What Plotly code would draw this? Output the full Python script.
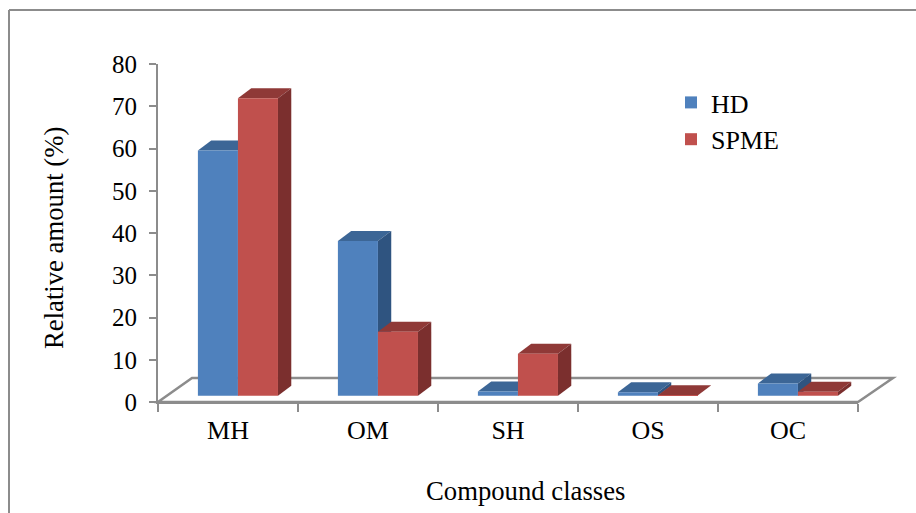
import plotly.graph_objects as go

categories = ["MH", "OM", "SH", "OS", "OC"]
hd_values = [58.0, 36.6, 1.0, 0.8, 2.9]
spme_values = [70.4, 15.1, 9.9, 0.1, 0.9]

FONT = "Liberation Serif"
FS = 26
TITLE_FS = 26.7
BASE = 1.5       # bars stand on the 3-D floor, above the axis line
DX = 0.095       # depth of a bar, in category units
DY = 2.37        # depth of a bar, in value units
WIDTH = 0.286
HD_OFFSET = -0.215
SPME_OFFSET = HD_OFFSET + WIDTH

fig = go.Figure()


def faces(values, offset, top_color, side_color):
    for i, v in enumerate(values):
        x0, x1 = i + offset, i + offset + WIDTH
        y0, y1 = BASE, BASE + v
        fig.add_trace(go.Scatter(
            x=[x0, x1, x1 + DX, x0 + DX, x0], y=[y1, y1, y1 + DY, y1 + DY, y1],
            mode="lines", fill="toself", fillcolor=top_color, line=dict(width=0),
            showlegend=False, hoverinfo="skip", cliponaxis=False,
        ))
        fig.add_trace(go.Scatter(
            x=[x1, x1 + DX, x1 + DX, x1, x1], y=[y0, y0 + DY, y1 + DY, y1, y0],
            mode="lines", fill="toself", fillcolor=side_color, line=dict(width=0),
            showlegend=False, hoverinfo="skip", cliponaxis=False,
        ))


faces(hd_values, HD_OFFSET, "#3c6696", "#2f5480")
faces(spme_values, SPME_OFFSET, "#8f3937", "#7b2f2e")

fig.add_trace(go.Bar(
    x=categories, y=hd_values, base=BASE, name="HD", xaxis="x2", yaxis="y",
    width=WIDTH, offset=HD_OFFSET, marker=dict(color="#4f81bd", line=dict(width=0)),
    legendgroup="hd",
))
fig.add_trace(go.Bar(
    x=categories, y=spme_values, base=BASE, name="SPME", xaxis="x2", yaxis="y",
    width=WIDTH, offset=SPME_OFFSET, marker=dict(color="#c0504d", line=dict(width=0)),
    legendgroup="spme",
))

axis_color = "#8c8c8c"
px_x = lambda p: (p - 158) / 700
px_y = lambda p: (402 - p) / 338
floor_path = (
    f"M {px_x(158)} {px_y(402)} L {px_x(858)} {px_y(402)} "
    f"L {px_x(893)} {px_y(378)} L {px_x(192)} {px_y(378)} Z"
)

fig.update_layout(
    width=916, height=513, autosize=False,
    margin=dict(l=158, r=58, t=64, b=111),
    paper_bgcolor="white", plot_bgcolor="rgba(0,0,0,0)",
    font=dict(family=FONT, size=FS, color="black"),
    barmode="overlay",
    xaxis=dict(type="linear", range=[-0.5, 4.5], visible=False),
    xaxis2=dict(
        type="category", categoryorder="array", categoryarray=categories,
        range=[-0.5, 4.5], overlaying="x", anchor="y", side="bottom",
        tickson="boundaries", ticks="outside", ticklen=8, tickwidth=2,
        tickcolor=axis_color, showline=True, linecolor=axis_color, linewidth=2,
        showgrid=False, zeroline=False, ticklabelstandoff=4,
        tickfont=dict(family=FONT, size=FS),
    ),
    yaxis=dict(
        range=[0, 80], tickvals=list(range(0, 90, 10)), ticks="outside",
        ticklen=7, tickwidth=2, tickcolor=axis_color, showline=True,
        linecolor=axis_color, linewidth=2, showgrid=False, zeroline=False,
        ticklabelstandoff=7, tickfont=dict(family=FONT, size=25),
    ),
    legend=dict(
        x=px_x(671), y=px_y(79), xanchor="left", yanchor="top",
        bgcolor="rgba(0,0,0,0)", tracegroupgap=0, font=dict(family=FONT, size=FS),
    ),
    annotations=[
        dict(text="Compound classes", xref="paper", yref="paper", x=px_x(525), y=px_y(491),
             showarrow=False, xanchor="center", yanchor="middle", font=dict(family=FONT, size=TITLE_FS)),
        dict(text="Relative amount (%)", xref="paper", yref="paper", x=px_x(54), y=px_y(238),
             textangle=-90, showarrow=False, xanchor="center", yanchor="middle",
             font=dict(family=FONT, size=TITLE_FS)),
    ],
    shapes=[
        dict(type="path", xref="paper", yref="paper", path=floor_path, layer="below",
             line=dict(color=axis_color, width=2.5)),
        dict(type="line", xref="paper", yref="paper", x0=px_x(9), x1=px_x(9), y0=px_y(513), y1=px_y(10),
             line=dict(color=axis_color, width=2)),
        dict(type="line", xref="paper", yref="paper", x0=px_x(9), x1=px_x(916), y0=px_y(10), y1=px_y(10),
             line=dict(color=axis_color, width=2)),
    ],
)

fig.write_html("out.html", config={"displayModeBar": False},
               post_script="document.body.style.margin='0';")
